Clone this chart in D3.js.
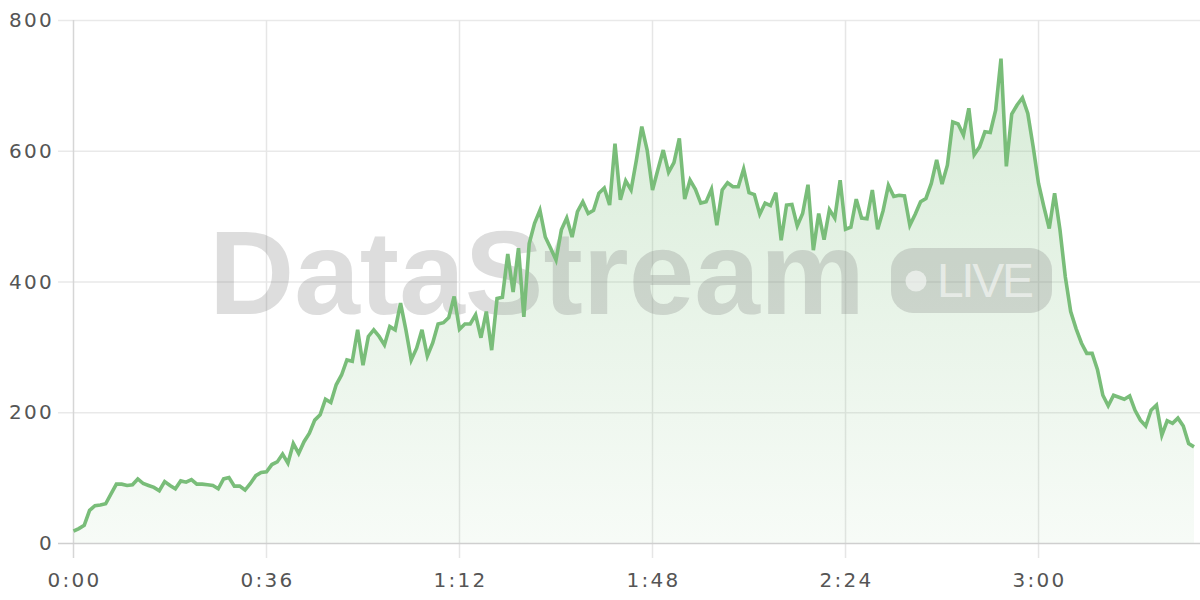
<!DOCTYPE html>
<html><head><meta charset="utf-8">
<script src="https://cdn.jsdelivr.net/npm/d3@7"></script>
<style>html,body{margin:0;padding:0;background:#fff;} svg{display:block;}</style>
</head><body><svg id="c" width="1200" height="600"></svg>
<script>
// viewers per minute, one value per minute from 0:00
const values = [
 18,22,27,50,57,58,60,75,90,90,
 88,89,98,91,88,85,80,94,88,83,
 95,93,97,90,90,89,88,83,98,100,
 87,87,81,91,103,108,109,120,124,136,
 122,152,137,155,168,188,196,220,215,242,
 257,280,278,326,272,316,326,316,303,331,
 326,367,326,280,298,326,286,306,335,337,
 345,377,327,335,335,349,314,354,295,374,
 376,442,384,451,346,458,489,509,468,451,
 433,479,497,468,507,522,504,509,535,543,
 517,611,525,554,540,586,637,601,540,571,
 601,567,582,619,526,555,541,520,522,541,
 486,540,551,545,545,572,536,533,503,520,
 516,536,463,517,518,485,504,548,448,504,
 464,510,497,555,480,483,526,497,496,540,
 480,508,547,530,532,531,486,503,522,527,
 550,586,549,578,644,641,624,665,594,606,
 629,628,662,741,576,656,670,681,657,606,
 550,514,481,535,479,407,354,328,306,290,
 290,265,226,210,226,223,220,225,203,188,
 179,203,211,165,187,183,191,179,152,147
];
const tickMinutes = [0,36,72,108,144,180];
const tickLabels = ["0:00","0:36","1:12","1:48","2:24","3:00"];
const yTicks = [0,200,400,600,800];
const yTickLabels = ["0","200","400","600","800"];

const svg = d3.select("#c");
const x = d3.scaleLinear().domain([0, values.length-1]).range([73.5, 1194]);
const y = d3.scaleLinear().domain([0,800]).range([543,20]);
const FONT = "'DejaVu Sans', sans-serif";

const defs = svg.append("defs");
const grad = defs.append("linearGradient").attr("id","ag")
  .attr("gradientUnits","userSpaceOnUse").attr("x1",0).attr("x2",0)
  .attr("y1", y(800)).attr("y2", y(0));
grad.append("stop").attr("offset","0%").attr("stop-color","#7cbf7c").attr("stop-opacity",0.32);
grad.append("stop").attr("offset","100%").attr("stop-color","#7cbf7c").attr("stop-opacity",0.06);

// horizontal grid
svg.append("g").selectAll("line").data(yTicks.filter(d=>d>0)).join("line")
  .attr("x1",58).attr("x2",1200).attr("y1",d=>y(d)+0.5).attr("y2",d=>y(d)+0.5)
  .attr("stroke","#e9e9e9").attr("stroke-width",1.5);
// vertical grid
svg.append("g").selectAll("line").data(tickMinutes.slice(1)).join("line")
  .attr("x1",d=>x(d)).attr("x2",d=>x(d)).attr("y1",20).attr("y2",558)
  .attr("stroke","#e6e6e6").attr("stroke-width",1.5);

// area + watermark + line
const area = d3.area().x((d,i)=>x(i)).y0(y(0)).y1(d=>y(d));
svg.append("path").datum(values).attr("d",area).attr("fill","url(#ag)");

const wm = svg.append("g");
wm.append("text").attr("x",209).attr("y",314).text("DataStream")
  .attr("font-family","'Liberation Sans', Arial, sans-serif").attr("font-weight","bold")
  .attr("font-size",118).attr("fill","rgba(120,120,120,0.25)");
wm.append("rect").attr("x",891).attr("y",248).attr("width",161).attr("height",65).attr("rx",22)
  .attr("fill","rgba(120,120,120,0.25)");
wm.append("circle").attr("cx",916).attr("cy",281).attr("r",10.5).attr("fill","rgba(255,255,255,0.55)");
wm.append("text").attr("x",937).attr("y",297).text("LIVE")
  .attr("font-family","'Liberation Sans', Arial, sans-serif")
  .attr("font-size",48).attr("textLength",97).attr("fill","rgba(255,255,255,0.55)");

// axes lines
svg.append("line").attr("x1",73.5).attr("x2",73.5).attr("y1",20).attr("y2",558)
  .attr("stroke","#d6d6d6").attr("stroke-width",1.5);
svg.append("line").attr("x1",58).attr("x2",1200).attr("y1",543.5).attr("y2",543.5)
  .attr("stroke","#cfcfcf").attr("stroke-width",1.5);

const line = d3.line().x((d,i)=>x(i)).y(d=>y(d));
svg.append("path").datum(values).attr("d",line).attr("fill","none")
  .attr("stroke","#79bd79").attr("stroke-width",3.6);

// labels
svg.append("g").selectAll("text").data(yTicks).join("text")
  .attr("x",54).attr("y",d=>y(d)).attr("dy","0.36em").attr("text-anchor","end")
  .attr("font-family",FONT).attr("font-size",20).attr("letter-spacing",2.3)
  .attr("fill","#555").text((d,i)=>yTickLabels[i]);
svg.append("g").selectAll("text").data(tickMinutes).join("text")
  .attr("x",d=>x(d)+1).attr("y",587).attr("text-anchor","middle")
  .attr("font-family",FONT).attr("font-size",20).attr("letter-spacing",2.3)
  .attr("fill","#555").text((d,i)=>tickLabels[i]);
</script></body></html>
